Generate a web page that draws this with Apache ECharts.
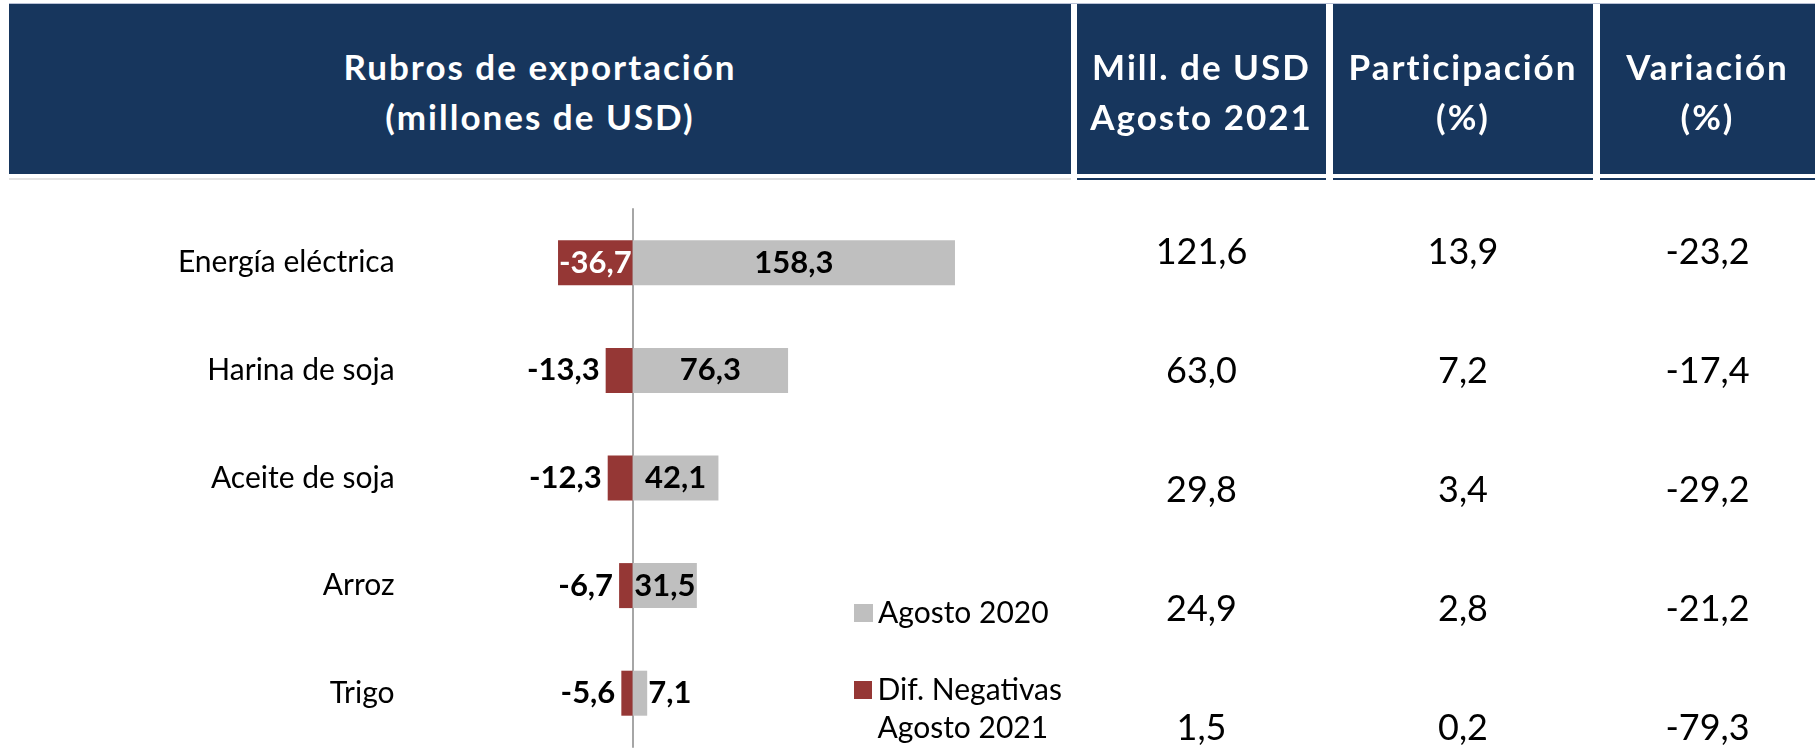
<!DOCTYPE html>
<html>
<head>
<meta charset="utf-8">
<script src="https://cdn.jsdelivr.net/npm/echarts@6/dist/echarts.min.js"></script>
<style>
  body { margin: 0; background: #fff; }
  #wrap { position: relative; width: 1820px; height: 749px; overflow: hidden; }
  #chart { position: absolute; left: 0; top: 0; width: 1820px; height: 749px; }
  .hd {
    position: absolute; top: 4px; height: 170px; box-sizing: border-box; padding-top: 4px;
    background: #17365d; color: #fff;
    font-family: Lato, sans-serif; font-weight: bold; font-size: 35px;
    letter-spacing: 2px; line-height: 50px;
    display: flex; flex-direction: column; justify-content: center; align-items: center;
    text-align: center;
  }
  .topline { position: absolute; top: 3px; height: 1px; background: #b9c1d6; }
  .uline { position: absolute; top: 178px; height: 2px; }
</style>
</head>
<body>
<div id="wrap">
  <div id="chart"></div>
  <div class="topline" style="left:9px;width:1806px"></div>
  <div class="hd" style="left:9px;width:1062px"><div>Rubros de exportación</div><div>(millones de USD)</div></div>
  <div class="hd" style="left:1077px;width:249px"><div>Mill. de USD</div><div>Agosto 2021</div></div>
  <div class="hd" style="left:1333px;width:260px"><div>Participación</div><div>(%)</div></div>
  <div class="hd" style="left:1600px;width:215px"><div>Variación</div><div>(%)</div></div>
  <div class="uline" style="left:9px;width:1062px;background:#e3e3e3"></div>
  <div class="uline" style="left:1077px;width:249px;background:#17365d"></div>
  <div class="uline" style="left:1333px;width:260px;background:#17365d"></div>
  <div class="uline" style="left:1600px;width:215px;background:#17365d"></div>
</div>
<script>
// rubros
var rubros = ['Energía eléctrica', 'Harina de soja', 'Aceite de soja', 'Arroz', 'Trigo']
// barras
var agosto2020 = [158.3, 76.3, 42.1, 31.5, 7.1]
var difNegativas = [-36.7, -13.3, -12.3, -6.7, -5.6]
// tabla
var millUsd2021 = [121.6, 63.0, 29.8, 24.9, 1.5]
var participacion = [13.9, 7.2, 3.4, 2.8, 0.2]
var variacion = [-23.2, -17.4, -29.2, -21.2, -79.3]

var FONT = 'Lato, sans-serif'
var NEG_NAME = 'Dif. Negativas Agosto 2021'
var fmt = function (v) { return v.toFixed(1).replace('.', ',') }

var chart = echarts.init(document.getElementById('chart'))

// columna de tabla como eje de categorias
function tableAxis (values, margin) {
  return {
    type: 'category',
    gridIndex: 1,
    position: 'right',
    inverse: true,
    data: values.map(fmt),
    axisLine: { show: false },
    axisTick: { show: false },
    axisLabel: {
      margin: margin,
      align: 'center',
      fontFamily: FONT,
      fontSize: 36,
      color: '#000'
    }
  }
}

var legendText = { fontFamily: FONT, fontSize: 30, color: '#000', lineHeight: 38 }

var option = {
  animation: false,
  grid: [
    { left: 510.6, top: 209, width: 525.2, height: 538, outerBoundsMode: 'none' },
    // la tabla sale un poco del lienzo por abajo
    { left: 1060, top: 193, width: 20, height: 595, outerBoundsMode: 'none' }
  ],
  legend: [
    {
      orient: 'vertical',
      left: 854,
      top: 594,
      padding: 0,
      itemWidth: 19,
      itemHeight: 18,
      icon: 'rect',
      textStyle: legendText,
      data: ['Agosto 2020']
    },
    {
      // cuadro arriba, alineado con la primera linea del texto
      orient: 'vertical',
      left: 854,
      top: 671,
      padding: 0,
      itemWidth: 19,
      itemHeight: 56,
      icon: 'path://M0,0h18v18h-18zM0,56h0',
      textStyle: legendText,
      data: [NEG_NAME],
      formatter: function () { return 'Dif. Negativas\nAgosto 2021' }
    }
  ],
  xAxis: [
    { type: 'value', gridIndex: 0, min: -60, max: 198, show: false },
    { type: 'value', gridIndex: 1, show: false }
  ],
  yAxis: [
    {
      type: 'category',
      gridIndex: 0,
      inverse: true,
      data: rubros,
      axisLine: { onZero: true, lineStyle: { color: '#a6a6a6', width: 2 } },
      axisTick: { length: 9, lineStyle: { color: '#a6a6a6', width: 2 } },
      axisLabel: { margin: 116, fontFamily: FONT, fontSize: 30, color: '#000' }
    },
    tableAxis(millUsd2021, 121.5),
    tableAxis(participacion, 383),
    tableAxis(variacion, 627.5)
  ],
  series: [
    {
      name: NEG_NAME,
      type: 'bar',
      stack: 'total',
      barWidth: 45,
      itemStyle: { color: '#953735' },
      data: difNegativas.map(function (v) {
        var big = v < -30
        return {
          value: v,
          label: {
            show: true,
            position: big ? 'inside' : 'left',
            distance: 6,
            color: big ? '#fff' : '#000'
          }
        }
      }),
      label: { fontFamily: FONT, fontSize: 31, fontWeight: 'bold', formatter: function (p) { return fmt(p.value) } }
    },
    {
      name: 'Agosto 2020',
      type: 'bar',
      stack: 'total',
      barWidth: 45,
      itemStyle: { color: '#bfbfbf' },
      data: agosto2020.map(function (v) {
        return { value: v, label: { show: true, position: v < 20 ? 'right' : 'inside', distance: 1 } }
      }),
      label: { color: '#000', fontFamily: FONT, fontSize: 31, fontWeight: 'bold', formatter: function (p) { return fmt(p.value) } }
    }
  ]
}

chart.setOption(option)
</script>
</body>
</html>
